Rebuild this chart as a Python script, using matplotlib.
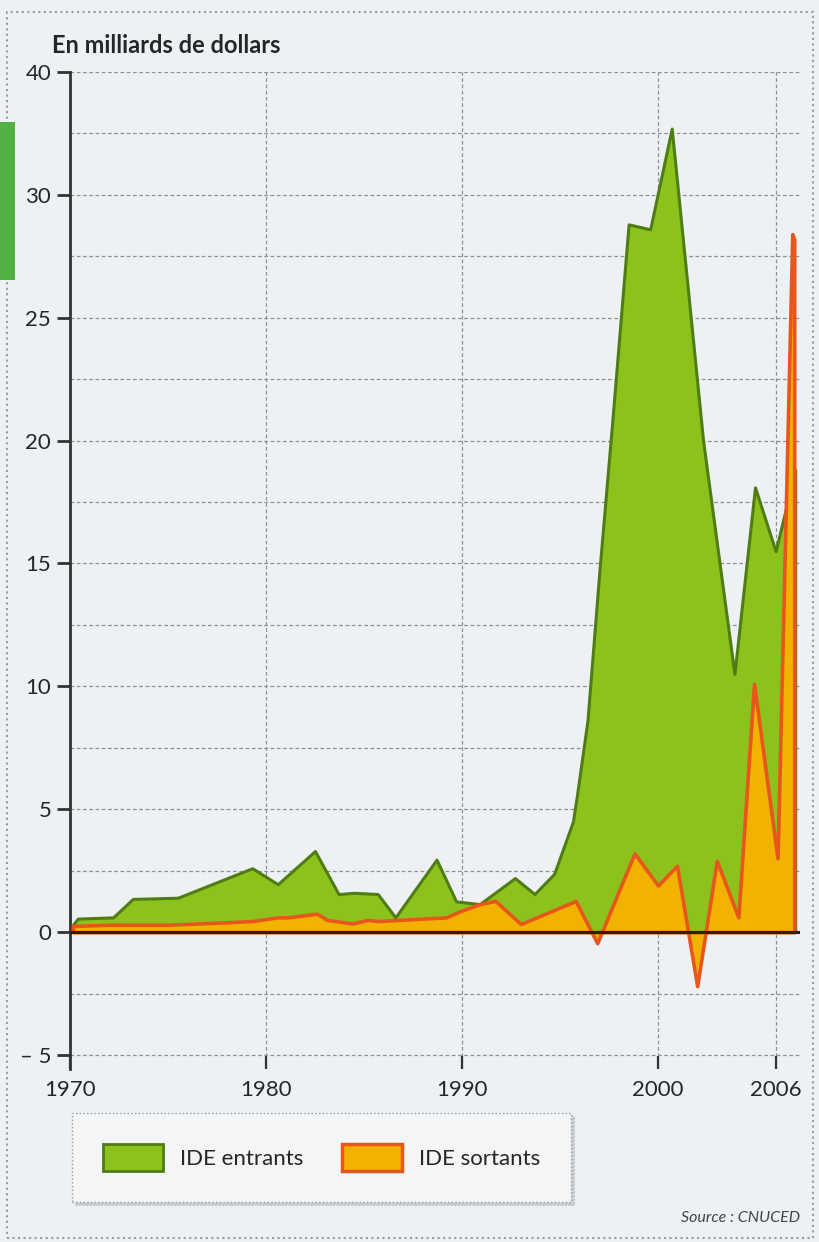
import numpy as np
import matplotlib
matplotlib.use('Agg')
import matplotlib.pyplot as plt
from matplotlib.patches import Rectangle, Patch
from matplotlib.ticker import MultipleLocator

# IDE entrants / sortants, en milliards de dollars
ent_annees = [1970.15, 1970.4, 1972.2, 1973.2, 1975.5, 1979.3, 1980.6, 1982.5,
              1983.7, 1984.5, 1985.7, 1986.6, 1988.7, 1989.7, 1990.9, 1992.7,
              1993.7, 1994.7, 1995.66, 1995.87, 1996.4, 1997.0, 1997.7, 1998.5,
              1999.6, 2000.7, 2002.3, 2003.9, 2004.95, 2006.0, 2007.0]
ent_valeurs = [0.3, 0.55, 0.6, 1.35, 1.4, 2.6, 1.95, 3.3,
               1.55, 1.6, 1.55, 0.6, 2.95, 1.25, 1.14, 2.2,
               1.55, 2.37, 4.5, 5.6, 8.6, 14.6, 21.1, 28.8,
               28.6, 32.7, 20.0, 10.5, 18.1, 15.5, 18.8]

sor_annees = [1970.15, 1972.0, 1975.0, 1978.0, 1979.3, 1980.6, 1981.1, 1982.6,
              1983.1, 1984.4, 1985.2, 1985.7, 1989.2, 1989.9, 1990.9, 1991.7,
              1993.0, 1995.8, 1996.9, 1998.8, 2000.0, 2000.97, 2002.0, 2003.0,
              2004.1, 2004.9, 2006.1, 2006.85, 2006.95]
sor_valeurs = [0.25, 0.3, 0.3, 0.4, 0.45, 0.6, 0.6, 0.75,
               0.5, 0.35, 0.5, 0.45, 0.6, 0.85, 1.14, 1.27,
               0.33, 1.27, -0.45, 3.2, 1.9, 2.7, -2.2, 2.9,
               0.6, 10.1, 3.0, 28.4, 28.2]

annees_ticks = [1970, 1980, 1990, 2000, 2006]
val_ticks = [-5, 0, 5, 10, 15, 20, 25, 30, 35]
val_labels = ['\u2013 5', '0', '5', '10', '15', '20', '25', '30', '40']

W, H = 820, 1242
fond = '#eef1f4'
texte = '#262626'
plt.rcParams['font.family'] = ['Lato', 'DejaVu Sans']

def fx(p):
    return p / W

def fy(p):
    return 1 - p / H

fig = plt.figure(figsize=(W / 100, H / 100), dpi=100, facecolor=fond)

# cadre pointillé de la page + tache verte du scan
fig.patches.append(Rectangle((fx(7), fy(1238)), fx(806), 1226 / H, transform=fig.transFigure,
                             fill=False, edgecolor='#9a9a9a', lw=1.5, ls=':'))
fig.patches.append(Rectangle((0, fy(280)), fx(15), 158 / H, transform=fig.transFigure,
                             facecolor='#52b043', edgecolor='none'))

ax = fig.add_axes([fx(70), fy(1068.5), fx(730), (1068.5 - 72) / H])
ax.set_facecolor(fond)

ax.fill_between(ent_annees, ent_valeurs, 0, facecolor='#8dc21c', edgecolor='#4f7d14',
                lw=2.2, zorder=3)
ax.fill_between(sor_annees, sor_valeurs, 0, facecolor='#f2b300', edgecolor='#e8561c',
                lw=2.6, zorder=4)
ax.axhline(0, color='#2b1d12', lw=2.2, zorder=5)

ax.set_xlim(1970, 2007.245)
ax.set_ylim(-5.55, 35)
ax.set_xticks(annees_ticks)
ax.set_yticks(val_ticks)
ax.set_yticklabels(val_labels)
ax.yaxis.set_minor_locator(MultipleLocator(2.5))
ax.grid(True, which='both', axis='y', color='#909090', lw=0.9, ls=(0, (3, 2)), zorder=1)
ax.grid(True, which='major', axis='x', color='#909090', lw=0.9, ls=(0, (3, 2)), zorder=1)
ax.tick_params(axis='y', which='minor', length=0)
ax.tick_params(axis='y', which='major', direction='out', length=9.5, width=2,
               color='#333333', labelsize=16, labelcolor=texte, pad=4)
ax.tick_params(axis='x', direction='in', length=9.5, width=1.6, color='#333333',
               labelsize=16, labelcolor=texte, pad=8)
for s in ['top', 'right', 'bottom']:
    ax.spines[s].set_visible(False)
ax.spines['left'].set_color('#333333')
ax.spines['left'].set_linewidth(2)

fig.text(fx(52), fy(53), 'En milliards de dollars', fontsize=17, fontweight='bold',
         color=texte, ha='left', va='baseline')
fig.text(fx(800), fy(1222), 'Source : CNUCED', fontsize=11.5, style='italic',
         color='#444444', ha='right', va='baseline')

poignees = [Patch(facecolor='#8dc21c', edgecolor='#4f7d14', lw=2, label='IDE entrants'),
            Patch(facecolor='#f2b300', edgecolor='#e8561c', lw=2.5, label='IDE sortants')]
leg = fig.legend(handles=poignees, loc='upper left', bbox_to_anchor=(fx(72), fy(1113)),
                 borderaxespad=0, ncol=2, fontsize=16, handlelength=2.7, handleheight=1.5,
                 handletextpad=0.75, columnspacing=1.75, borderpad=1.4,
                 fancybox=False, shadow={'color': '#a8a8a8'}, framealpha=1,
                 facecolor='#f3f5f7', edgecolor='#9a9a9a', labelcolor=texte)
leg.get_frame().set_linestyle(':')

fig.savefig('out.png', dpi=100, facecolor=fond)
